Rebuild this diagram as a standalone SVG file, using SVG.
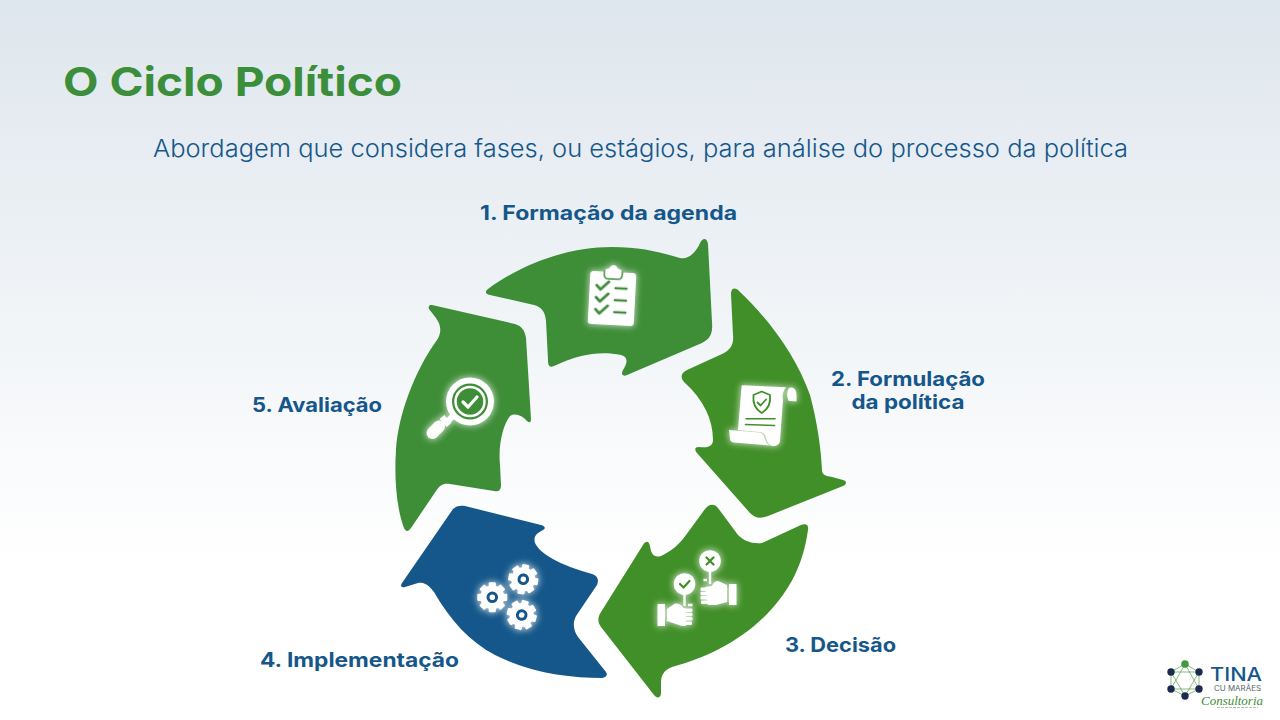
<svg xmlns="http://www.w3.org/2000/svg" width="1280" height="720" viewBox="0 0 1280 720">
<defs>
<linearGradient id="bg" x1="0" y1="0" x2="0" y2="1"><stop offset="0" stop-color="#dee6ed"/><stop offset="0.78" stop-color="#ffffff"/><stop offset="1" stop-color="#ffffff"/></linearGradient>
<filter id="glow" x="-40%" y="-40%" width="180%" height="180%"><feMorphology in="SourceAlpha" operator="dilate" radius="1"/><feGaussianBlur stdDeviation="3.2" result="b"/><feFlood flood-color="#ffffff" flood-opacity="0.62"/><feComposite in2="b" operator="in" result="g"/><feMerge><feMergeNode in="g"/><feMergeNode in="SourceGraphic"/></feMerge></filter>
<g id="gear"><g fill="#fff"><circle r="12"/><rect x="-3.6" y="-15" width="7.2" height="30" rx="1.2"/><rect x="-3.6" y="-15" width="7.2" height="30" rx="1.2" transform="rotate(45)"/><rect x="-3.6" y="-15" width="7.2" height="30" rx="1.2" transform="rotate(90)"/><rect x="-3.6" y="-15" width="7.2" height="30" rx="1.2" transform="rotate(135)"/></g><circle r="4.3" fill="none" stroke="#15578a" stroke-width="3"/></g>
</defs>
<style>
.lbl{font-family:"Inter","Liberation Sans",sans-serif;font-weight:700;font-size:20px;fill:#15578a}
.ic{stroke-linecap:round;stroke-linejoin:round;fill:none}
</style>
<rect width="1280" height="720" fill="url(#bg)"/>
<text x="63" y="96" font-family="Inter,'Liberation Sans',sans-serif" font-weight="700" font-size="40" fill="#3b8e3a" textLength="339" lengthAdjust="spacingAndGlyphs">O Ciclo Político</text>
<text x="153" y="157" font-family="Inter,'Liberation Sans',sans-serif" font-weight="300" font-size="24" fill="#15578a" textLength="975" lengthAdjust="spacingAndGlyphs">Abordagem que considera fases, ou estágios, para análise do processo da política</text>

<g id="node1">
<path fill="#3e8d37" d="M488 289C525 262 570 247 612 247C640 247 660 252 680 258C690 260 697 250 700 243C703 237 707 238 708 244L712 322C713 334 710 339 702 343L627 375C622 377 621 374 623 370C628 362 628 357 621 355C600 351 580 354 554 366C549 368 548 365 548 360L546 321C545 311 541 307 534 305L490 295C485 294 485 291 488 289Z"/>
<g id="icon1" filter="url(#glow)" transform="rotate(3 612 299)">
<path fill="#fff" d="M593 272H603C603 269 607 269 608 268C610 264 614 264 616 268C617 269 621 269 621 272H631C634 272 635 273 635 276V321C635 324 634 325 631 325H593C590 325 589 324 589 321V276C589 273 590 272 593 272Z"/>
<path class="ic" stroke="#3e8d37" stroke-width="1.6" d="M603 271V274C603 278 605 279 607 279H617C619 279 621 278 621 274V271"/>
<g class="ic" stroke="#3e8d37" stroke-width="3"><path d="M596 286L600 290L608 282M596 298L600 302L608 294M596 310L600 314L608 306"/><path stroke-width="2.6" d="M615 288H626M615 300H626M615 312H626"/></g>
</g>
<text class="lbl" x="480" y="220" textLength="257" lengthAdjust="spacingAndGlyphs">1. Formação da agenda</text>
</g>

<g id="node2">
<path fill="#418f28" d="M731 294C731 288 735 287 739 291C770 320 797 358 810 395C818 425 821 450 822 470C822 475 826 476 832 477L843 480C847 481 847 484 843 486L768 516C760 519 755 518 750 513L697 453C694 449 695 447 699 447C706 448 713 447 713 440C713 420 704 400 684 382C680 377 681 373 687 370L722 354C730 350 734 345 733 335Z"/>
<g id="icon2" filter="url(#glow)">
<path fill="#fff" d="M741.700 385.300L786 387.300C783 391 782 396 783 400L780 440C780 444 777 446 773 446C769 446 767 442 766 438C765 434 763 432 759 432L738 430Z"/>
<path fill="#fff" d="M788.500 388.500C791 386.500 796.500 387 796.500 396V401.500L788.500 400.800C786.500 396 787 392 788.500 388.500Z"/>
<path fill="#fff" d="M729 430L759 432.500C763 433 764 436 765 439C766 442 767 444 770 445.500L734 442.500C731 442 730 441 730 438Z"/>
<g class="ic" stroke="#418f28" stroke-width="1.800"><path d="M761.700 391.500L753.500 395C752.500 403 755 409 761.700 413C768.500 409 771 403 770 395ZM757.500 402.500L760.500 405.500L766 399.500"/><path stroke-width="1.600" d="M746 418.800H775M745.500 424.500L774.500 425.500"/></g>
</g>
<text class="lbl" text-anchor="middle" x="908" y="386" textLength="154" lengthAdjust="spacingAndGlyphs">2. Formulação</text>
<text class="lbl" text-anchor="middle" x="908" y="409" textLength="113" lengthAdjust="spacingAndGlyphs">da política</text>
</g>

<g id="node3">
<path fill="#418f28" d="M705 509C709 504 714 503 718 508L738 535C744 541 752 544 762 543L801 525C806 523 809 525 808 530C803 565 790 590 768 613C740 642 705 658 672 667C664 670 661 675 661 683L661 693C661 698 657 699 654 695L601 627C597 621 598 617 601 612L643 545C646 540 649 541 650 546C651 554 654 558 661 556C670 552 680 544 686 535Z"/>
<g id="icon3" filter="url(#glow)">
<circle cx="684.500" cy="584" r="10.800" fill="#fff"/><circle cx="710" cy="561" r="10.800" fill="#fff"/>
<g class="ic" stroke="#418f28" stroke-width="2.200"><path d="M680 584L683.500 587.500L689.500 581M706.500 557.500L713.500 564.500M713.500 557.500L706.500 564.500"/></g>
<path d="M684.500 594V606M710 571V584M703.500 580H707M688 605H692.500" stroke="#fff" stroke-width="2.400" fill="none"/>
<rect x="657.500" y="604" width="7.500" height="22" fill="#fff"/><rect x="729" y="584" width="7.500" height="21" fill="#fff"/>
<path fill="#fff" d="M667 609L675 603.500C678 603 681 604 683 607.500L686 609V626H682L667 621Z"/>
<g fill="#fff"><rect x="682" y="608.500" width="10.500" height="3.400" rx="1.200"/><rect x="682" y="612.800" width="10.500" height="3.400" rx="1.200"/><rect x="682" y="617.100" width="10.500" height="3.400" rx="1.200"/><rect x="682" y="621.400" width="10" height="3.600" rx="1.200"/></g>
<path fill="#fff" d="M727 585L718 581C715 581 713 583 712 586L705 587L708 605H716L727 602Z"/>
<g fill="#fff"><rect x="700.500" y="587.500" width="11" height="3.400" rx="1.200"/><rect x="700.500" y="591.800" width="11" height="3.400" rx="1.200"/><rect x="700.500" y="596.100" width="11" height="3.400" rx="1.200"/><rect x="701" y="600.400" width="11" height="3.600" rx="1.200"/></g>
</g>
<text class="lbl" x="785" y="652" textLength="111" lengthAdjust="spacingAndGlyphs">3. Decisão</text>
</g>

<g id="node4">
<path fill="#15578a" d="M453 509C456 506 460 505 465 506L541 525C545 526 546 528 543 530C537 533 533 536 535 543C540 554 560 565 592 574C598 576 599 580 597 585L576 616C572 624 574 631 578 637L606 672C608 675 606 678 602 678C570 678 530 673 495 655C470 642 450 620 434 592C428 584 423 582 418 583L405 587C401 588 400 586 402 583Z"/>
<g id="icon4" filter="url(#glow)">
<use href="#gear" x="492.300" y="597.300"/><use href="#gear" x="523.300" y="579.300" transform="rotate(10 523.300 579.300)"/><use href="#gear" x="521.700" y="615" transform="rotate(15 521.700 615)"/>
</g>
<text class="lbl" x="260" y="667" textLength="199" lengthAdjust="spacingAndGlyphs">4. Implementação</text>
</g>

<g id="node5">
<path fill="#3e8d37" d="M432 305L515 324C522 326 525 331 526 338L531 419C531 423 529 423 527 421C522 415 515 413 510 416C503 425 498 445 500 465L501 485C501 491 498 492 494 491L450 484C443 483 440 485 436 491L411 528C408 532 406 532 404 528C397 510 394 480 396 450C398 415 415 370 437 340C442 332 441 325 436 318L429 309C428 306 429 305 432 305Z"/>
<g id="icon5">
<g filter="url(#glow)">
<circle cx="470" cy="401.500" r="24" fill="#fff"/>
<path d="M442 417L449 425M453 416L447 422" stroke="#fff" stroke-width="6" fill="none"/>
<path d="M439 426.500L432.500 433" stroke="#fff" stroke-width="12" stroke-linecap="round"/>
</g>
<circle cx="470" cy="401.500" r="18" fill="#3e8d37"/>
<circle cx="470" cy="401.500" r="14.500" fill="none" stroke="#fff" stroke-width="2.500"/>
<path class="ic" stroke="#fff" stroke-width="3.200" d="M463 402L468 407L477 397"/>
</g>
<text class="lbl" x="252" y="412" textLength="130" lengthAdjust="spacingAndGlyphs">5. Avaliação</text>
</g>

<g id="logo">
<g stroke="#3e8d37" stroke-width="0.600" fill="none"><path d="M1185 664L1199 672V689L1185 696L1171 689V672ZM1185 664L1171 689M1185 664L1199 689M1171 672L1199 672M1171 689L1199 689M1171 672L1185 696M1199 672L1185 696"/></g>
<circle cx="1185" cy="664" r="3.800" fill="#3e9a3a"/>
<g fill="#1c2a4e"><circle cx="1171" cy="672" r="3.700"/><circle cx="1199" cy="672" r="3.700"/><circle cx="1171" cy="689" r="3.700"/><circle cx="1199" cy="689" r="3.700"/><circle cx="1185" cy="696" r="3.700"/></g>
<text x="1210" y="681" font-family="Inter,'Liberation Sans',sans-serif" font-weight="500" font-size="18" fill="#15578a" textLength="52" lengthAdjust="spacingAndGlyphs">TINA</text>
<text x="1214" y="690.500" font-family="Inter,'Liberation Sans',sans-serif" font-size="7" fill="#555f6b" textLength="47" lengthAdjust="spacingAndGlyphs">CU MARÃES</text>
<text x="1201" y="705" font-family="'Liberation Serif',serif" font-style="italic" font-size="13" fill="#3e8d37" textLength="62" lengthAdjust="spacingAndGlyphs">Consultoria</text>
<path d="M1217 707.500H1258" stroke="#b5bcc2" stroke-width="1" stroke-dasharray="3 1"/>
</g>
</svg>
